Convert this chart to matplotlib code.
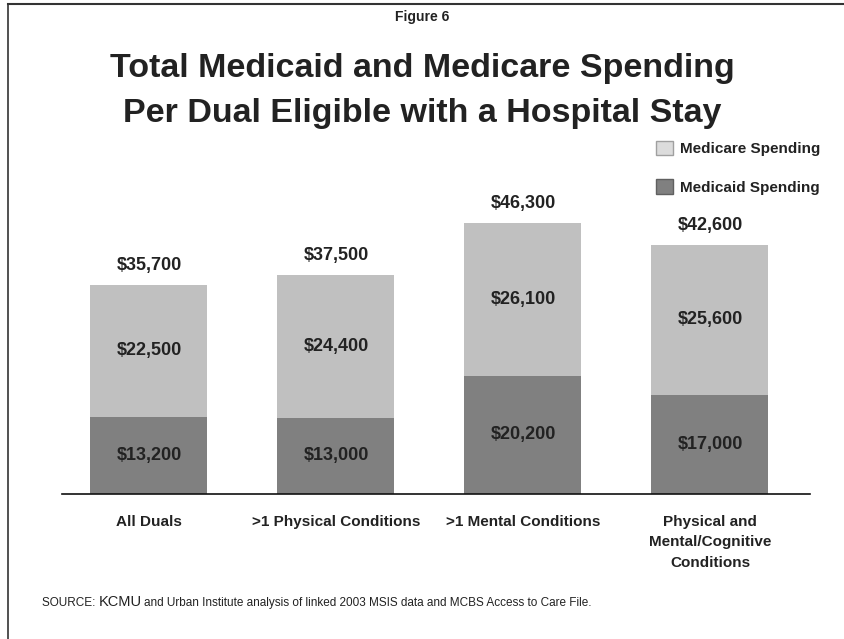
import matplotlib.pyplot as plt
from matplotlib.patches import Patch
from matplotlib.lines import Line2D

plt.rcParams['font.family'] = ['Liberation Sans', 'DejaVu Sans']

categories = ['All Duals', '>1 Physical Conditions', '>1 Mental Conditions',
              'Physical and\nMental/Cognitive\nConditions']
medicaid = [13200, 13000, 20200, 17000]
medicare = [22500, 24400, 26100, 25600]
totals = [35700, 37500, 46300, 42600]

MEDICARE_COLOR = '#c0c0c0'
MEDICAID_COLOR = '#808080'
TEXT_COLOR = '#222222'

fig = plt.figure(figsize=(8.44, 6.39), dpi=100)
ax = fig.add_axes([62 / 844, 145 / 639, 748 / 844, 354 / 639])

x = list(range(len(categories)))
w = 0.626
ax.bar(x, medicaid, width=w, color=MEDICAID_COLOR, zorder=2)
ax.bar(x, medicare, width=w, bottom=medicaid, color=MEDICARE_COLOR, zorder=2)

def money(v):
    return '${:,}'.format(v)

for i in x:
    ax.text(i, medicaid[i] / 2, money(medicaid[i]), ha='center', va='center',
            fontsize=13, fontweight='bold', color=TEXT_COLOR)
    ax.text(i, medicaid[i] + medicare[i] / 2, money(medicare[i]), ha='center',
            va='center', fontsize=13, fontweight='bold', color=TEXT_COLOR)
    ax.text(i, totals[i] + 1900, money(totals[i]), ha='center', va='bottom',
            fontsize=13, fontweight='bold', color=TEXT_COLOR)

ax.set_xlim(-0.465, 3.535)
ax.set_ylim(0, 60513)
for s in ['top', 'right', 'left']:
    ax.spines[s].set_visible(False)
ax.spines['bottom'].set_color('#111111')
ax.spines['bottom'].set_linewidth(1.2)
ax.set_yticks([])
ax.set_xticks(x)
ax.set_xticklabels(categories, fontsize=11, fontweight='bold', color=TEXT_COLOR,
                   linespacing=1.6, va='top')
ax.tick_params(axis='x', length=0, pad=15)

handles = [Patch(facecolor='#dcdcdc', edgecolor='#a0a0a0', label='Medicare Spending'),
           Patch(facecolor=MEDICAID_COLOR, edgecolor='#606060', label='Medicaid Spending')]
leg = fig.legend(handles=handles, loc='upper left', bbox_to_anchor=(642 / 844, 1 - 127 / 639),
                 frameon=False, labelspacing=1.5, handlelength=1.1, handleheight=1.1,
                 handletextpad=0.5, prop={'size': 11, 'weight': 'bold'})
for t in leg.get_texts():
    t.set_color(TEXT_COLOR)

fig.text(0.5, 1 - 17 / 639, 'Figure 6', ha='center', va='center',
         fontsize=10, fontweight='bold', color=TEXT_COLOR)
fig.text(0.5, 1 - 91 / 639, 'Total Medicaid and Medicare Spending\nPer Dual Eligible with a Hospital Stay',
         ha='center', va='center', fontsize=24.5, fontweight='bold', color=TEXT_COLOR,
         linespacing=1.6)

# source line, with the larger "KCMU" in the middle
base_y = 1 - 606 / 639
src1 = fig.text(42 / 844, base_y, 'SOURCE: ', fontsize=8.5, color=TEXT_COLOR,
                va='baseline')
src2 = fig.text(0, base_y, 'KCMU', fontsize=10.5, color=TEXT_COLOR, va='baseline')
fig.canvas.draw()
r = fig.canvas.get_renderer()
bb = src1.get_window_extent(r)
src2.set_x(bb.x1 / 844)
bb2 = src2.get_window_extent(r)
fig.text(bb2.x1 / 844 + 0.003, base_y,
         'and Urban Institute analysis of linked 2003 MSIS data and MCBS Access to Care File.',
         fontsize=8.5, color=TEXT_COLOR, va='baseline')

# page frame: top and left rules
fig.add_artist(Line2D([8 / 844, 1], [1 - 4 / 639, 1 - 4 / 639], color='#333333', lw=1.5))
fig.add_artist(Line2D([8 / 844, 8 / 844], [0, 1 - 4 / 639], color='#333333', lw=1.2))

fig.savefig('out.png', dpi=100)
